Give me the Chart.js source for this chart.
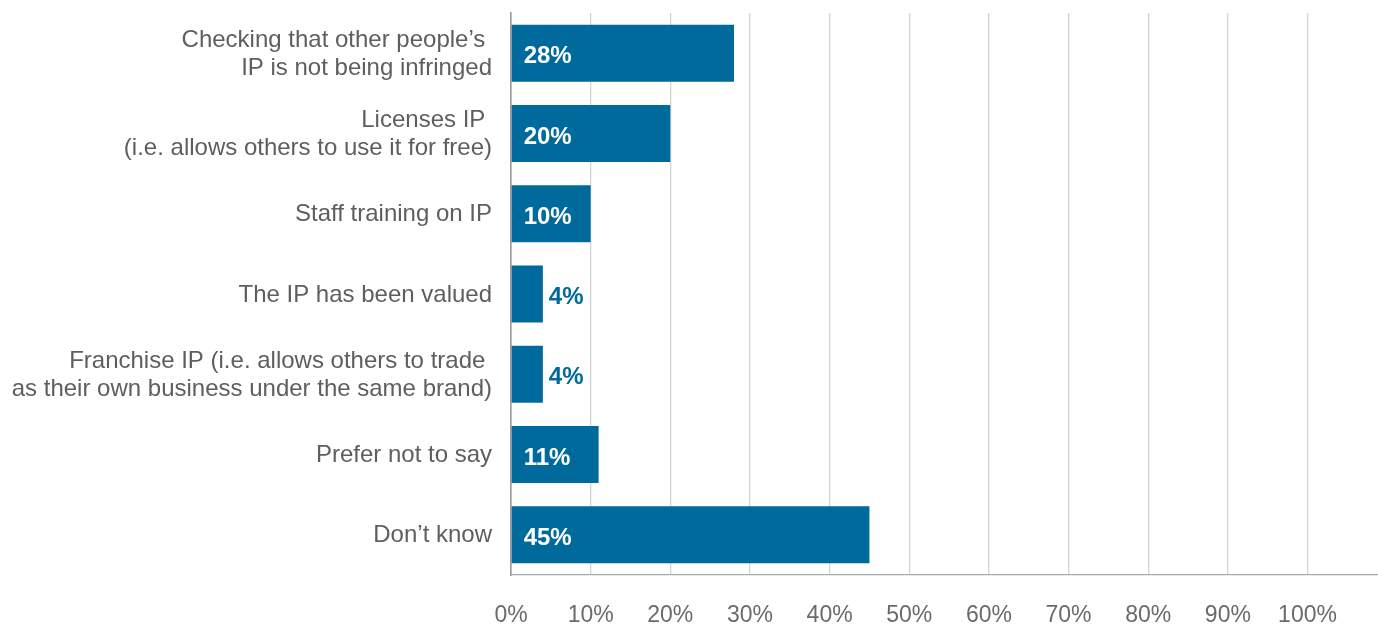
<!DOCTYPE html>
<html>
<head>
<meta charset="utf-8">
<script src="https://cdn.jsdelivr.net/npm/chart.js@4.4.1/dist/chart.umd.min.js"></script>
<style>
  html, body { margin: 0; padding: 0; background: #ffffff; }
  #wrap { width: 1378px; height: 626px; position: relative; }
</style>
</head>
<body>
<div id="wrap"><canvas id="chart" width="1378" height="626"></canvas></div>
<script>
// Survey answers: what businesses do with their IP
const categories = [
  ["Checking that other people\u2019s ", "IP is not being infringed"],
  ["Licenses IP ", "(i.e. allows others to use it for free)"],
  "Staff training on IP",
  "The IP has been valued",
  ["Franchise IP (i.e. allows others to trade ", "as their own business under the same brand)"],
  "Prefer not to say",
  "Don\u2019t know"
];
const shares = [28, 20, 10, 4, 4, 11, 45];
const tickValues = [0, 10, 20, 30, 40, 50, 60, 70, 80, 90, 100];

const BAR_BLUE = '#006A9C';
const FONT = '"Liberation Sans", Arial, Helvetica, sans-serif';

// Writes each share as a percentage: inside the bar when it fits, beside it otherwise
const valueLabels = {
  id: 'valueLabels',
  afterDatasetsDraw(chart) {
    const ctx = chart.ctx;
    const meta = chart.getDatasetMeta(0);
    const values = chart.data.datasets[0].data;
    ctx.save();
    ctx.font = 'bold 24px ' + FONT;
    ctx.textBaseline = 'middle';
    ctx.textAlign = 'left';
    meta.data.forEach((bar, i) => {
      const v = values[i];
      const text = v + '%';
      const inside = (bar.x - bar.base) > ctx.measureText(text).width + 20;
      if (inside) {
        ctx.fillStyle = '#ffffff';
        ctx.fillText(text, bar.base + 12, bar.y + 3.5);
      } else {
        ctx.fillStyle = BAR_BLUE;
        ctx.fillText(text, bar.x + 6, bar.y + 3.5);
      }
    });
    ctx.restore();
  }
};

new Chart(document.getElementById('chart'), {
  type: 'bar',
  data: {
    labels: categories,
    datasets: [{
      data: shares,
      backgroundColor: BAR_BLUE,
      borderWidth: 0,
      barPercentage: 0.71,
      categoryPercentage: 1.0
    }]
  },
  options: {
    indexAxis: 'y',
    responsive: false,
    animation: false,
    layout: { padding: { top: 13, right: 0, bottom: 0, left: 0 } },
    plugins: {
      legend: { display: false },
      tooltip: { enabled: false }
    },
    scales: {
      x: {
        min: 0,
        max: 108.85,
        afterBuildTicks(scale) {
          scale.ticks = tickValues.map(v => ({ value: v }));
        },
        afterFit(scale) {
          scale.height = 51;
          scale.paddingLeft = 0;
          scale.paddingRight = 0;
        },
        grid: {
          color: '#d4d4d4',
          lineWidth: 1.3,
          drawTicks: false
        },
        border: { display: true, color: '#a8a8a8', width: 1.3 },
        ticks: {
          padding: 27,
          color: '#6a6a6a',
          font: { family: FONT, size: 23 },
          maxRotation: 0,
          autoSkip: false,
          callback: (v) => v + '%'
        }
      },
      y: {
        afterFit(scale) {
          scale.width = 511;
          scale.paddingTop = 0;
          scale.paddingBottom = 0;
        },
        grid: { display: false, drawTicks: false },
        border: { display: true, color: '#9a9a9a', width: 1.6 },
        ticks: {
          padding: 19,
          labelOffset: 1,
          color: '#5e5e5e',
          font: { family: FONT, size: 24, lineHeight: 1.16 },
          autoSkip: false
        }
      }
    }
  },
  plugins: [valueLabels]
});
</script>
</body>
</html>
